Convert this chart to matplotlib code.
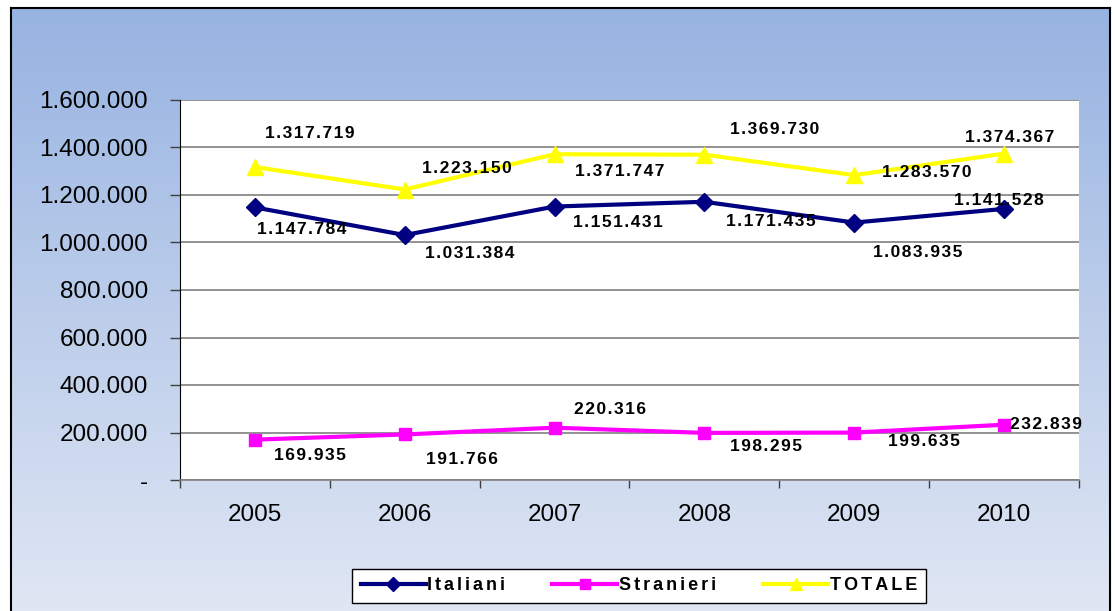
import numpy as np
import matplotlib
matplotlib.use("Agg")
import matplotlib.pyplot as plt
from matplotlib.lines import Line2D

years = ["2005", "2006", "2007", "2008", "2009", "2010"]
italiani = [1147784, 1031384, 1151431, 1171435, 1083935, 1141528]
stranieri = [169935, 191766, 220316, 198295, 199635, 232839]
totale = [1317719, 1223150, 1371747, 1369730, 1283570, 1374367]
y_ticks = [0, 200000, 400000, 600000, 800000, 1000000, 1200000, 1400000, 1600000]
series_names = ["Italiani", "Stranieri", "TOTALE"]

# label offsets in pixels (layout only)
off_tot = [(55, 34), (62, 21), (65, -17), (70, 25), (73, 3), (6, 16)]
off_ita = [(47, -22), (65, -18), (63, -16), (66, -20), (63, -30), (-5, 8)]
off_str = [(55, -16), (57, -25), (55, 18), (62, -14), (70, -9), (42, 0)]

FONT = ["Liberation Sans", "DejaVu Sans"]
SP = "\u200a"
SP_LEG = "\u2006"

def fmt_num(v):
    s = f"{v:,}".replace(",", ".")
    return SP.join(s)

def fmt_tick(v):
    return "-" if v == 0 else f"{int(v):,}".replace(",", ".")

W, H = 1115, 611
fig = plt.figure(figsize=(W / 100, H / 100), dpi=100)
fig.patch.set_facecolor("white")

# gradient background frame
bg = fig.add_axes([11 / W, 0, (1110 - 11) / W, (H - 8) / H])
top = np.array([0x97, 0xb3, 0xe1]) / 255
bot = np.array([0xe0, 0xe7, 0xf4]) / 255
t = np.linspace(0, 1, 256)[:, None]
grad = top[None, :] * (1 - t) + bot[None, :] * t
bg.imshow(grad[:, None, :].repeat(2, axis=1), aspect="auto", extent=[0, 1, 0, 1])
bg.set_xticks([]); bg.set_yticks([])
for s in ["left", "right", "top"]:
    bg.spines[s].set_color("black"); bg.spines[s].set_linewidth(1.5)
bg.spines["bottom"].set_visible(False)

ax = fig.add_axes([180 / W, 1 - 480 / H, 899 / W, 380 / H])
ax.set_facecolor("white")
x = np.arange(len(years))

ax.plot(x, italiani, color="#000080", lw=3, marker="D", ms=9, zorder=3)
ax.plot(x, stranieri, color="#ff00ff", lw=3, marker="s", ms=9, zorder=3)
ax.plot(x, totale, color="#ffff00", lw=3, marker="^", ms=11, zorder=3)

for vals, offs in [(totale, off_tot), (italiani, off_ita), (stranieri, off_str)]:
    for xi, v, (dx, dy) in zip(x, vals, offs):
        ax.annotate(fmt_num(v), (xi, v), xytext=(dx, dy), textcoords="offset pixels",
                    ha="center", va="center", fontsize=12.5, fontweight="bold",
                    family=FONT, color="black", zorder=4)

ax.set_xlim(-0.5, len(years) - 0.5)
ax.set_ylim(0, 1600000)
ax.set_yticks(y_ticks)
ax.set_yticklabels([fmt_tick(v) for v in y_ticks], fontsize=17.5, family=FONT)
ax.set_xticks(x)
ax.set_xticklabels(years, fontsize=17.5, family=FONT)
ax.set_xticks(np.arange(-0.5, len(years)), minor=True)
ax.tick_params(axis="x", which="major", length=0, pad=17)
ax.tick_params(axis="x", which="minor", length=6, width=1, color="#404040", direction="out")
ax.tick_params(axis="y", length=7, width=1, color="#404040", pad=16)
ax.yaxis.grid(True, color="#808080", lw=1.2)
ax.set_axisbelow(True)
for s in ["top", "right"]:
    ax.spines[s].set_visible(False)
ax.spines["left"].set_color("black")
ax.spines["bottom"].set_color("#808080")
ax.spines["bottom"].set_linewidth(1.2)

handles = [
    Line2D([], [], color="#000080", lw=3, marker="D", ms=7),
    Line2D([], [], color="#ff00ff", lw=3, marker="s", ms=7),
    Line2D([], [], color="#ffff00", lw=3, marker="^", ms=9),
]
leg = fig.legend(handles, [SP_LEG.join(n) for n in series_names], loc="center",
                 bbox_to_anchor=((353 + 925) / 2 / W, 1 - 586 / H), ncol=3,
                 frameon=True, fancybox=False, edgecolor="black", framealpha=1,
                 prop={"family": FONT, "weight": "bold", "size": 13},
                 handlelength=3.6, handletextpad=0.1, columnspacing=2.6,
                 borderpad=0.45)
leg.get_frame().set_linewidth(1)

fig.savefig("out.png", dpi=100)
